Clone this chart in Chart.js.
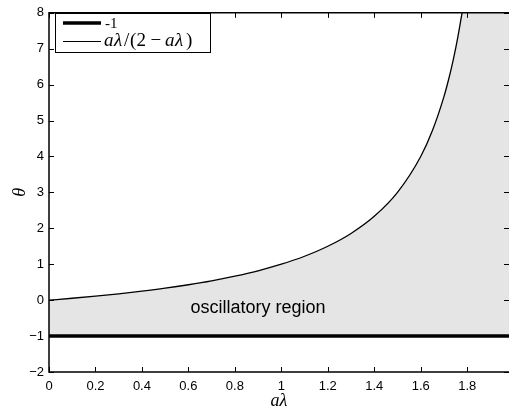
<!DOCTYPE html>
<html>
<head>
<meta charset="utf-8">
<script src="https://cdn.jsdelivr.net/npm/chart.js@4.4.1/dist/chart.umd.min.js"></script>
<style>
  html, body { margin: 0; padding: 0; background: #fff; }
  #wrap { width: 509px; height: 413px; }
</style>
</head>
<body>
<div id="wrap"><canvas id="c"></canvas></div>
<script>
// curve theta = a*lambda / (2 - a*lambda)
const aLambda = [0, 0.1, 0.2, 0.3, 0.4, 0.5, 0.6, 0.7, 0.8, 0.9, 1.0, 1.1, 1.2, 1.3, 1.4, 1.5, 1.6, 1.65, 1.7, 1.72, 1.74, 1.76, 1.778];
const theta = [0, 0.053, 0.111, 0.176, 0.25, 0.333, 0.429, 0.538, 0.667, 0.818, 1.0, 1.222, 1.5, 1.857, 2.333, 3.0, 4.0, 4.714, 5.667, 6.143, 6.692, 7.333, 8.0];
const lowerX = [0, 1.98];
const lowerY = [-1, -1];
const xTicks = [0, 0.2, 0.4, 0.6, 0.8, 1, 1.2, 1.4, 1.6, 1.8];
const xTickLabels = ["0", "0.2", "0.4", "0.6", "0.8", "1", "1.2", "1.4", "1.6", "1.8"];
const yTicks = [-2, -1, 0, 1, 2, 3, 4, 5, 6, 7, 8];
const yTickLabels = ["\u22122", "\u22121", "0", "1", "2", "3", "4", "5", "6", "7", "8"];
const xMax = 1.98;

const curvePts = aLambda.map((x, i) => ({ x: x, y: theta[i] }));
// shaded region: under the curve, then along the top edge to the right
const shadePts = curvePts.concat([{ x: xMax, y: 8 }]);
const lowerPts = lowerX.map((x, i) => ({ x: x, y: lowerY[i] }));

const boxAndTicks = {
  id: "boxAndTicks",
  afterDatasetsDraw(chart) {
    const ctx = chart.ctx;
    const a = chart.chartArea;
    const xs = chart.scales.x, ys = chart.scales.y;
    ctx.save();
    ctx.strokeStyle = "#000";
    ctx.lineWidth = 1.5;
    ctx.beginPath();
    ctx.moveTo(a.right + 2, a.top);
    ctx.lineTo(a.left, a.top);
    ctx.lineTo(a.left, a.bottom);
    ctx.lineTo(a.right + 2, a.bottom);
    ctx.stroke();
    ctx.lineWidth = 1;
    const L = 5;
    ctx.beginPath();
    xTicks.forEach(v => {
      const px = Math.round(xs.getPixelForValue(v)) + 0.5;
      ctx.moveTo(px, a.bottom); ctx.lineTo(px, a.bottom - L);
      ctx.moveTo(px, a.top); ctx.lineTo(px, a.top + L);
    });
    yTicks.forEach(v => {
      const py = Math.round(ys.getPixelForValue(v)) + 0.5;
      ctx.moveTo(a.left, py); ctx.lineTo(a.left + L, py);
      ctx.moveTo(a.right, py); ctx.lineTo(a.right - L, py);
    });
    ctx.stroke();

    // annotation
    ctx.fillStyle = "#000";
    ctx.font = "18px 'Liberation Sans', Arial, sans-serif";
    ctx.textAlign = "center";
    ctx.textBaseline = "middle";
    ctx.fillText("oscillatory region", xs.getPixelForValue(0.9), ys.getPixelForValue(-0.22));

    // legend
    const lx = 55, ly = 13, lw = 155, lh = 39;
    ctx.fillStyle = "#fff";
    ctx.fillRect(lx, ly, lw, lh);
    ctx.lineWidth = 1;
    ctx.strokeStyle = "#000";
    ctx.strokeRect(lx + 0.5, ly + 0.5, lw, lh);
    ctx.lineWidth = 3.5;
    ctx.beginPath(); ctx.moveTo(63, 23); ctx.lineTo(101, 23); ctx.stroke();
    ctx.lineWidth = 1;
    ctx.beginPath(); ctx.moveTo(63, 41.5); ctx.lineTo(101, 41.5); ctx.stroke();
    ctx.fillStyle = "#000";
    ctx.textAlign = "left";
    ctx.textBaseline = "alphabetic";
    ctx.font = "15px 'Liberation Serif', serif";
    ctx.fillText("-1", 105, 27.5);
    const glyphs = [["a", "italic ", 104], ["\u03bb", "italic ", 114], ["/", "", 124], ["(", "", 130], ["2", "", 136.5],
                    ["\u2212", "", 150.5], ["a", "italic ", 165], ["\u03bb", "italic ", 175], [")", "", 186]];
    glyphs.forEach(g => {
      ctx.font = g[1] + "19px 'Liberation Serif', serif";
      ctx.fillText(g[0], g[2], 45.5);
    });
    ctx.restore();
  }
};

new Chart(document.getElementById("c"), {
  type: "scatter",
  data: {
    datasets: [
      {
        label: "shade",
        data: shadePts,
        showLine: true,
        borderWidth: 0,
        borderColor: "rgba(0,0,0,0)",
        backgroundColor: "#e5e5e5",
        pointRadius: 0,
        cubicInterpolationMode: "monotone",
        fill: { value: -1 },
        order: 3
      },
      {
        label: "-1",
        data: lowerPts,
        showLine: true,
        borderWidth: 3.5,
        borderColor: "#000",
        pointRadius: 0,
        fill: false,
        order: 1
      },
      {
        label: "a\u03bb/(2 \u2212 a\u03bb)",
        data: curvePts,
        showLine: true,
        borderWidth: 1.3,
        borderColor: "#000",
        pointRadius: 0,
        cubicInterpolationMode: "monotone",
        fill: false,
        order: 2
      }
    ]
  },
  options: {
    responsive: true,
    maintainAspectRatio: false,
    animation: false,
    clip: false,
    layout: { padding: { top: 6, right: 0, left: 0, bottom: 0 } },
    plugins: { legend: { display: false }, tooltip: { enabled: false } },
    scales: {
      x: {
        type: "linear",
        min: 0,
        max: xMax,
        grid: { display: false, drawTicks: false },
        border: { display: false },
        afterBuildTicks: s => { s.ticks = xTicks.map(v => ({ value: v })); },
        afterFit: s => { s.height = 41; },
        ticks: {
          padding: 7,
          color: "#000",
          font: { family: "'Liberation Sans', Arial, sans-serif", size: 13 },
          callback: (v, i) => xTickLabels[i]
        },
        title: {
          display: true,
          text: "a\u03bb",
          color: "#000",
          font: { family: "'Liberation Serif', serif", size: 18, style: "italic" },
          padding: { top: 0, bottom: 1 }
        }
      },
      y: {
        type: "linear",
        min: -2,
        max: 8,
        grid: { display: false, drawTicks: false },
        border: { display: false },
        afterBuildTicks: s => { s.ticks = yTicks.map(v => ({ value: v })); },
        afterFit: s => { s.width = 49; },
        ticks: {
          padding: 5,
          color: "#000",
          font: { family: "'Liberation Sans', Arial, sans-serif", size: 13 },
          callback: (v, i) => yTickLabels[i]
        },
        title: {
          display: true,
          text: "\u03b8",
          color: "#000",
          font: { family: "'Liberation Serif', serif", size: 18, style: "italic" },
          padding: { top: 9, bottom: 0 }
        }
      }
    }
  },
  plugins: [boxAndTicks]
});
</script>
</body>
</html>
